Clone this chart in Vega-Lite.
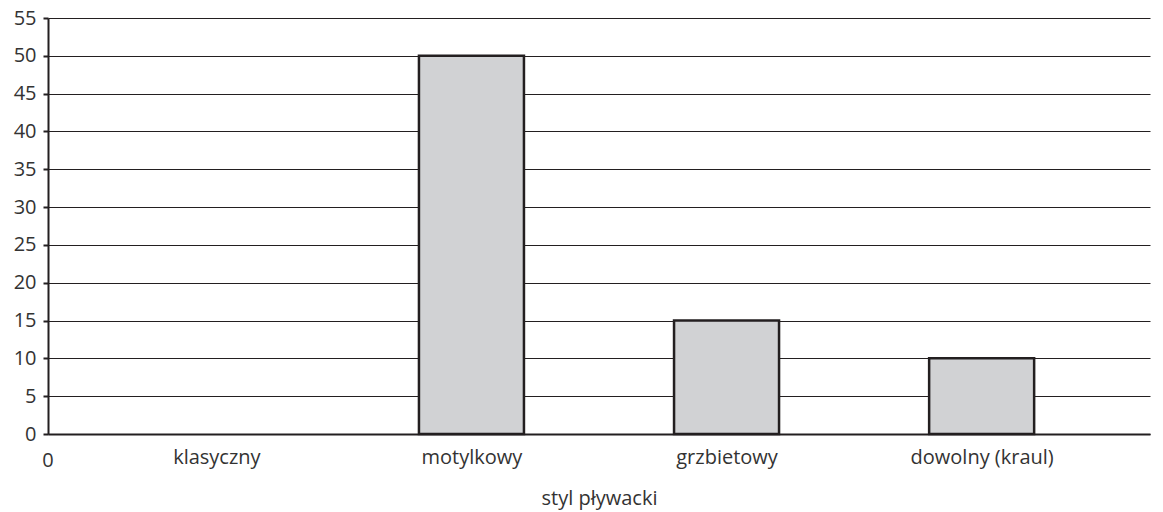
{
  "$schema": "https://vega.github.io/schema/vega-lite/v6.json",
  "width": 1102,
  "height": 416,
  "autosize": "none",
  "padding": {"left": 48, "top": 18, "right": 13, "bottom": 78},
  "config": {
    "view": {"stroke": null},
    "font": "Open Sans",
    "axisY": {
      "grid": true, "gridColor": "#231f20", "gridWidth": 1, "gridOpacity": 1,
      "domainColor": "#231f20", "domainWidth": 2,
      "tickColor": "#231f20", "tickSize": 5, "tickWidth": 2,
      "labelFontSize": 20, "labelColor": "#333333", "labelPadding": 7,
      "labelOverlap": false, "labelFlush": false, "labelBound": false,
      "titleFontSize": 20
    },
    "axisX": {
      "labelAngle": 0, "ticks": false, "domainColor": "#231f20", "domainWidth": 2,
      "labelFontSize": 20, "labelColor": "#333333", "labelPadding": 13,
      "titleFontWeight": "normal", "titleFontSize": 20,
      "titleColor": "#333333", "titlePadding": 21, "grid": false, "labelOverlap": false
    }
  },
  "datasets": {
    "bars": [
      {"styl": "klasyczny", "liczba": null},
      {"styl": "motylkowy", "liczba": 50},
      {"styl": "grzbietowy", "liczba": 15},
      {"styl": "dowolny (kraul)", "liczba": 10}
    ],
    "origin": [{"label": "0"}]
  },
  "layer": [
    {
      "data": {"name": "bars"},
      "mark": {"type": "bar", "size": 105, "fill": "#d1d2d4", "stroke": "#231f20", "strokeWidth": 2.5},
      "encoding": {
        "x": {
          "field": "styl", "type": "nominal", "sort": null,
          "scale": {"type": "point", "padding": 0.66, "domain": ["klasyczny", "motylkowy", "grzbietowy", "dowolny (kraul)"]},
          "axis": {"title": "styl pływacki"}
        },
        "y": {
          "field": "liczba", "type": "quantitative",
          "scale": {"domain": [0, 55], "nice": false},
          "axis": {"values": [0, 5, 10, 15, 20, 25, 30, 35, 40, 45, 50, 55], "title": null}
        }
      }
    },
    {
      "data": {"name": "origin"},
      "mark": {"type": "text", "fontSize": 20, "color": "#333333", "baseline": "middle", "align": "center", "dy": 27},
      "encoding": {
        "x": {"value": 0},
        "y": {"datum": 0, "type": "quantitative", "axis": {"values": [0, 5, 10, 15, 20, 25, 30, 35, 40, 45, 50, 55], "title": null}},
        "text": {"field": "label"}
      }
    }
  ]
}
